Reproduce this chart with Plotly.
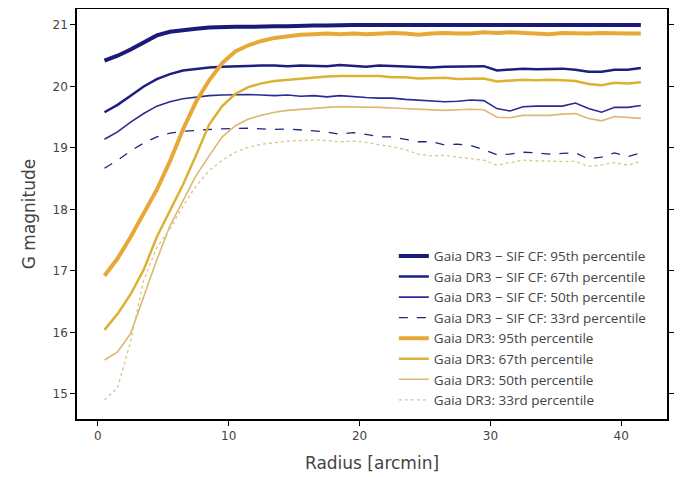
import plotly.graph_objects as go

radius = [0.5 + i for i in range(42)]

sif_95 = [20.42, 20.5, 20.6, 20.72, 20.83, 20.89, 20.92, 20.94, 20.96, 20.97, 20.97, 20.97, 20.98, 20.98, 20.98,
          20.99, 20.99, 20.99, 21.0, 21.0, 21.0, 21.0, 21.0, 21.0, 21.0, 21.0, 21.0, 21.0, 21.0, 21.0,
          21.0, 21.0, 21.0, 21.0, 21.0, 21.0, 21.0, 21.0, 21.0, 21.0, 21.0, 21.0]
sif_67 = [19.58, 19.7, 19.85, 20.0, 20.12, 20.2, 20.26, 20.29, 20.31, 20.32, 20.33, 20.33, 20.34, 20.34, 20.33,
          20.34, 20.34, 20.33, 20.35, 20.34, 20.32, 20.34, 20.33, 20.33, 20.32, 20.31, 20.32, 20.32, 20.33, 20.33,
          20.26, 20.28, 20.29, 20.28, 20.29, 20.29, 20.27, 20.24, 20.24, 20.27, 20.27, 20.3]
sif_50 = [19.14, 19.26, 19.42, 19.56, 19.68, 19.75, 19.8, 19.83, 19.85, 19.86, 19.87, 19.87, 19.86, 19.85, 19.86,
          19.84, 19.85, 19.83, 19.85, 19.83, 19.82, 19.81, 19.81, 19.79, 19.78, 19.77, 19.75, 19.76, 19.78, 19.77,
          19.64, 19.6, 19.67, 19.68, 19.68, 19.68, 19.73, 19.64, 19.58, 19.66, 19.66, 19.69]
sif_33 = [18.67, 18.8, 18.95, 19.08, 19.18, 19.24, 19.27, 19.29, 19.3, 19.31, 19.32, 19.32, 19.31, 19.3, 19.31,
          19.29, 19.28, 19.26, 19.22, 19.25, 19.22, 19.18, 19.18, 19.14, 19.1, 19.1, 19.05, 19.06, 19.04, 18.97,
          18.89, 18.9, 18.93, 18.92, 18.9, 18.91, 18.92, 18.82, 18.85, 18.92, 18.86, 18.92]

dr3_95 = [16.92, 17.2, 17.55, 17.93, 18.32, 18.78, 19.3, 19.75, 20.1, 20.38, 20.57, 20.67, 20.74, 20.79, 20.82,
          20.84, 20.85, 20.86, 20.85, 20.86, 20.85, 20.86, 20.87, 20.86, 20.84, 20.86, 20.87, 20.86, 20.86, 20.88,
          20.87, 20.88, 20.87, 20.86, 20.85, 20.87, 20.86, 20.86, 20.87, 20.86, 20.86, 20.86]
dr3_67 = [16.04, 16.3, 16.62, 17.02, 17.55, 17.97, 18.4, 18.88, 19.38, 19.68, 19.88, 19.99, 20.05, 20.09, 20.11,
          20.13, 20.15, 20.16, 20.17, 20.17, 20.16, 20.17, 20.15, 20.15, 20.13, 20.13, 20.14, 20.12, 20.13, 20.13,
          20.08, 20.1, 20.11, 20.1, 20.11, 20.1, 20.09, 20.04, 20.02, 20.06, 20.05, 20.07]
dr3_50 = [15.55, 15.68, 15.98, 16.58, 17.18, 17.73, 18.15, 18.55, 18.87, 19.18, 19.36, 19.47, 19.53, 19.58, 19.61,
          19.63, 19.65, 19.66, 19.67, 19.67, 19.66, 19.66, 19.65, 19.64, 19.63, 19.62, 19.61, 19.62, 19.63, 19.62,
          19.5, 19.49, 19.53, 19.53, 19.53, 19.55, 19.56, 19.48, 19.44, 19.51, 19.49, 19.48]
dr3_33 = [14.9, 15.1, 15.85, 16.85, 17.38, 17.68, 18.05, 18.38, 18.63, 18.8, 18.93, 19.01, 19.06, 19.09, 19.11,
          19.12, 19.13, 19.12, 19.1, 19.11, 19.09, 19.05, 19.02, 18.97, 18.9, 18.87, 18.88, 18.85, 18.82, 18.8,
          18.72, 18.76, 18.8, 18.79, 18.78, 18.78, 18.78, 18.7, 18.72, 18.76, 18.72, 18.78]

names = [
    "Gaia DR3 − SIF CF: 95th percentile",
    "Gaia DR3 − SIF CF: 67th percentile",
    "Gaia DR3 − SIF CF: 50th percentile",
    "Gaia DR3 − SIF CF: 33rd percentile",
    "Gaia DR3: 95th percentile",
    "Gaia DR3: 67th percentile",
    "Gaia DR3: 50th percentile",
    "Gaia DR3: 33rd percentile",
]
series = [sif_95, sif_67, sif_50, sif_33, dr3_95, dr3_67, dr3_50, dr3_33]
colors = ["#1a1a78", "#1e1e80", "#2b2b90", "#23237e", "#e8a838", "#dbb234", "#dcb870", "#d9c48e"]
widths = [4, 2.5, 1.6, 1.3, 4, 2.5, 1.6, 1.3]
dashes = ["solid", "solid", "solid", "dash", "solid", "solid", "solid", "dot"]

FONT = "DejaVu Sans, sans-serif"
LEG_FONT = "Open Sans, sans-serif"

fig = go.Figure()
for n, s, c, w, d in zip(names, series, colors, widths, dashes):
    fig.add_trace(go.Scatter(x=radius, y=s, mode="lines", name=n,
                             line=dict(color=c, width=w, dash=d)))

axis_common = dict(showline=True, linecolor="black", linewidth=1.5, mirror="ticks",
                   ticks="outside", ticklen=5, tickwidth=1.2, tickcolor="black",
                   showgrid=False, zeroline=False, automargin=False,
                   tickfont=dict(family=FONT, size=12, color="#444"))

fig.update_layout(
    width=682, height=477,
    margin=dict(l=69, r=23, t=1, b=66, autoexpand=False),
    paper_bgcolor="white", plot_bgcolor="white",
    font=dict(family=FONT, color="#444"),
    xaxis=dict(range=[-1.6, 43.5], tickvals=[0, 10, 20, 30, 40],
               title=dict(text="Radius [arcmin]", font=dict(size=17, color="#444"), standoff=15),
               **axis_common),
    yaxis=dict(range=[14.59, 21.26], tickvals=[15, 16, 17, 18, 19, 20, 21],
               title=dict(text="G magnitude", font=dict(size=17, color="#444"), standoff=13),
               **axis_common),
    legend=dict(x=0.537, y=0.008, xanchor="left", yanchor="bottom",
                bgcolor="rgba(255,255,255,0)", borderwidth=0,
                font=dict(family=LEG_FONT, size=13.5, color="#444"),
                tracegroupgap=0),
    showlegend=True,
)

fig.write_html("out.html")
